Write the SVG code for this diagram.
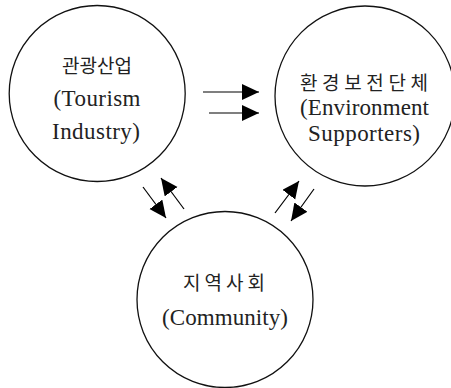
<svg xmlns="http://www.w3.org/2000/svg" width="451" height="388" viewBox="0 0 451 388">
<style>
.node circle{fill:#fff;stroke:#111;stroke-width:1.3}
.ko{font-family:"Noto Sans CJK KR","Noto Sans",sans-serif;font-size:19px;fill:#222;text-anchor:middle}
.en{font-family:"Liberation Serif","Times New Roman",serif;font-size:23px;fill:#222;text-anchor:middle}
.conn line{stroke:#000;stroke-width:1.2;fill:none}
</style>
<defs>
<marker id="ah" markerUnits="userSpaceOnUse" markerWidth="18" markerHeight="17" refX="17" refY="8" orient="auto">
<path d="M0,0 L17,8 L0,16 Z" fill="#000"/>
</marker>
</defs>
<rect width="451" height="388" fill="#fff"/>
<g id="tourism" class="node">
<circle cx="97.2" cy="93.5" r="88"/>
<text class="ko" x="97" y="73" textLength="70" lengthAdjust="spacing">관광산업</text>
<text class="en" x="97" y="106" textLength="87" lengthAdjust="spacing">(Tourism</text>
<text class="en" x="96" y="139" textLength="88" lengthAdjust="spacing">Industry)</text>
</g>
<g id="environment" class="node">
<circle cx="365" cy="96" r="90"/>
<text class="ko" x="364" y="90" textLength="128" lengthAdjust="spacing">환경보전단체</text>
<text class="en" x="364.5" y="115" textLength="129" lengthAdjust="spacing">(Environment</text>
<text class="en" x="364" y="141" textLength="112" lengthAdjust="spacing">Supporters)</text>
</g>
<g id="community" class="node">
<circle cx="225" cy="299.5" r="88"/>
<text class="ko" x="224" y="290" textLength="82" lengthAdjust="spacing">지역사회</text>
<text class="en" x="225" y="325" textLength="126" lengthAdjust="spacing">(Community)</text>
</g>
<g id="connectors" class="conn">
<line x1="203" y1="92" x2="259" y2="92" marker-end="url(#ah)"/>
<line x1="209" y1="113" x2="259" y2="113" marker-end="url(#ah)"/>
<line x1="143" y1="187" x2="166" y2="218" marker-end="url(#ah)"/>
<line x1="184" y1="209" x2="161" y2="178" marker-end="url(#ah)"/>
<line x1="275" y1="213" x2="299" y2="181" marker-end="url(#ah)"/>
<line x1="314" y1="189" x2="291" y2="221" marker-end="url(#ah)"/>
</g>
</svg>
